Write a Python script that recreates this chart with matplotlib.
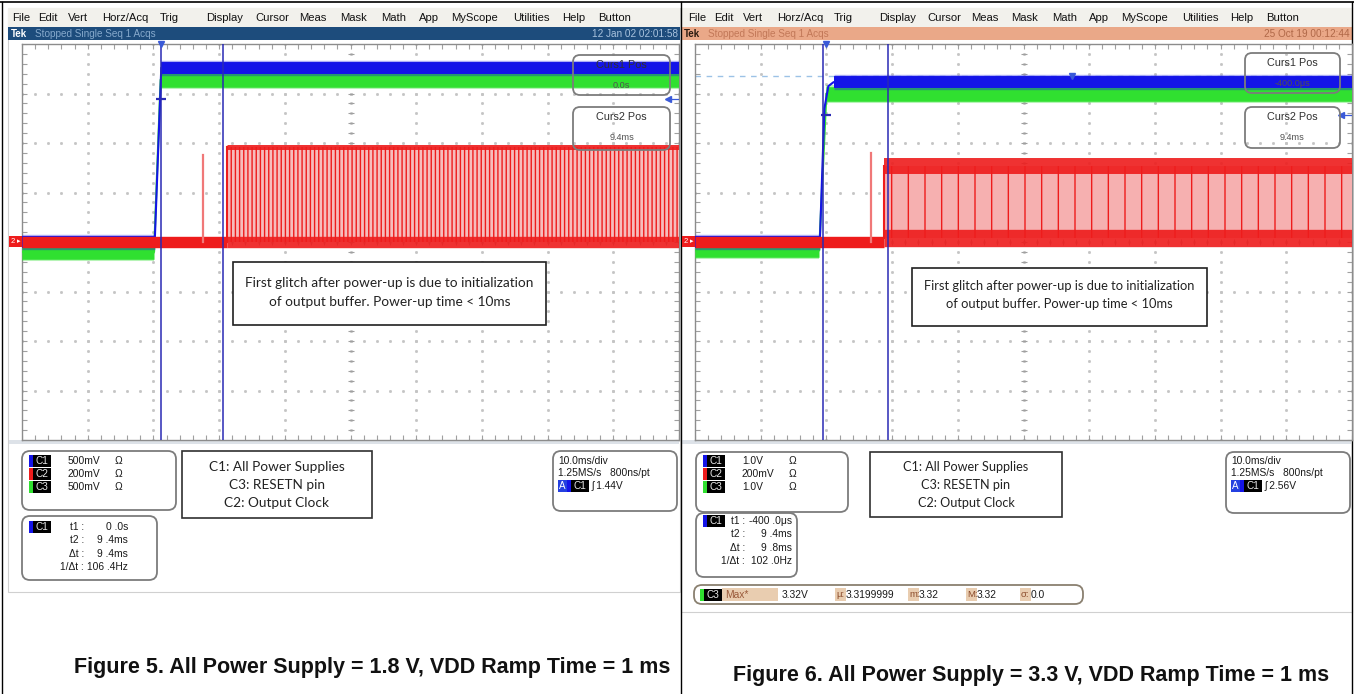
import numpy as np
import matplotlib.pyplot as plt
from matplotlib.patches import Rectangle, FancyBboxPatch

plt.rcParams['hatch.color'] = '#e81c1c'
plt.rcParams['hatch.linewidth'] = 1.0

menu_items = ["File", "Edit", "Vert", "Horz/Acq", "Trig", "Display", "Cursor",
              "Meas", "Mask", "Math", "App", "MyScope", "Utilities", "Help", "Button"]
menu_x = [12, 38, 68, 102, 160, 206, 255, 299, 340, 381, 419, 451, 513, 562, 598]
status = "Stopped Single Seq 1 Acqs"
dates = ["12 Jan 02 02:01:58", "25 Oct 19 00:12:44"]
captions = ["Figure 5. All Power Supply = 1.8 V, VDD Ramp Time = 1 ms",
            "Figure 6. All Power Supply = 3.3 V, VDD Ramp Time = 1 ms"]

# time window of each screen in ms (10 ms/div)
f5_window = [-21.2, 78.8]
f6_window = [-19.9, 80.1]
# V/div for C1, C2, C3
f5_scale = [0.5, 0.2, 0.5]
f6_scale = [1.0, 0.2, 1.0]

# C1 all power supplies (blue)
f5_c1_t = [-21.2, -1.0, 0.0, 78.8]
f5_c1_v = [0.0, 0.0, 1.76, 1.76]
f6_c1_t = [-19.9, -0.9, -0.2, 0.4, 1.2, 80.1]
f6_c1_v = [0.0, 0.0, 2.7, 3.15, 3.23, 3.23]
# C3 RESETN pin (green)
f5_c3_t = [-21.2, -1.1, -0.1, 78.8]
f5_c3_v = [-0.1, -0.1, 1.64, 1.64]
f6_c3_t = [-19.9, -1.0, 0.1, 80.1]
f6_c3_v = [-0.17, -0.17, 3.0, 3.0]
# C2 output clock (red): start (ms), low (V), high (V)
f5_clk = [10.0, 0.0, 0.382]
f6_clk = [8.9, 0.018, 0.307]
# first glitch: time (ms), height (V)
f5_glitch = [6.4, 0.35]
f6_glitch = [6.9, 0.36]
# cursors (ms), trigger level (V)
f5_curs = [0.0, 9.4]
f6_curs = [-0.4, 9.4]
f5_trig = 1.44
f6_trig = 2.56
f6_hlevel = 3.36
f6_hmark = 37.5

# readouts
f5_vert = [("C1", "500mV"), ("C2", "200mV"), ("C3", "500mV")]
f6_vert = [("C1", "1.0V"), ("C2", "200mV"), ("C3", "1.0V")]
legend_lines = ["C1: All Power Supplies", "C3: RESETN pin", "C2: Output Clock"]
horiz = ["10.0ms/div", "1.25MS/s   800ns/pt"]
f5_trig_txt = "\u0283 1.44V"
f6_trig_txt = "\u0283 2.56V"
f5_curs_pos = ["0.0s", "9.4ms"]
f6_curs_pos = ["-400.0\u03bcs", "9.4ms"]
f5_readout = [("t1 :", "0 .0s"), ("t2 :", "9 .4ms"), ("\u0394t :", "9 .4ms"), ("1/\u0394t :", "106 .4Hz")]
f6_readout = [("t1 :", "-400 .0\u03bcs"), ("t2 :", "9 .4ms"), ("\u0394t :", "9 .8ms"), ("1/\u0394t :", "102 .0Hz")]
note = ["First glitch after power-up is due to initialization",
        "of output buffer. Power-up time < 10ms"]
f6_meas_keys = ["\u03bc:", "m:", "M:", "\u03c3:"]
f6_meas_vals = ["3.3199999", "3.32", "3.32", "0.0"]

BLUE, GREEN, RED = '#1414e8', '#30e030', '#ee1c1c'
CURSOR = '#2a2ab4'
MARK = '#3a5ad8'
UI = ['Liberation Sans', 'DejaVu Sans']
NOTE = ['Lato', 'DejaVu Sans']

W, H = 1354, 694
fig = plt.figure(figsize=(W / 100, H / 100), dpi=100)


def overlay(z):
    a = fig.add_axes([0, 0, 1, 1], zorder=z)
    a.set_xlim(0, W)
    a.set_ylim(H, 0)
    a.axis('off')
    return a


bg = overlay(0)
fg = overlay(5)


def screen(x0, x1, y1, bar, tek_col, txt_col, date_col, date, mx0, msc):
    bg.add_patch(Rectangle((x0, 8), x1 - x0, y1 - 8, fc='white', ec='#d0d0d0', lw=0.8))
    bg.add_patch(Rectangle((x0, 8), x1 - x0, 19, fc='#f2f1ec', ec='none'))
    for name, mx in zip(menu_items, menu_x):
        bg.text(mx0 + (mx - 12) * msc, 18, name, fontsize=8.1, family=UI,
                color='#111111', va='center')
    bg.add_patch(Rectangle((x0, 27), x1 - x0, 13, fc=bar, ec='none'))
    bg.text(x0 + 3, 33.5, "Tek", fontsize=7, weight='bold', family=UI,
            color=tek_col, va='center')
    bg.text(x0 + 27, 33.5, status, fontsize=7.2, family=UI, color=txt_col, va='center')
    bg.text(x1 - 2, 33.5, date, fontsize=7.2, family=UI, color=date_col,
            va='center', ha='right')
    bg.add_patch(Rectangle((x0 + 1, 440), x1 - x0 - 2, 4, fc='#dde2e8', ec='none'))


def trace(ax, t, v, sc, color, band, z):
    y = np.asarray(v) / sc
    ax.plot(t, y, color=color, lw=1.5, zorder=z)
    for i in range(len(t) - 1):
        if v[i] == v[i + 1]:
            ax.plot(t[i:i + 2], y[i:i + 2], color=color, lw=band + 2.5, alpha=0.35,
                    solid_capstyle='butt', zorder=z)
            ax.plot(t[i:i + 2], y[i:i + 2], color=color, lw=band,
                    solid_capstyle='butt', zorder=z)


def scope(box, win, scale, c1_t, c1_v, c3_t, c3_v, clk, glitch, curs, trig,
          hatch, fill, top_lw, bot_lw):
    x0, y0, x1, y1 = box
    ax = fig.add_axes([x0 / W, 1 - y1 / H, (x1 - x0) / W, (y1 - y0) / H], zorder=2)
    ax.set_xlim(*win)
    ax.set_ylim(-4, 4)
    ax.set_xticks([])
    ax.set_yticks([])
    for s in ax.spines.values():
        s.set_color('#8c8c8c')
        s.set_linewidth(1.0)
    tr = ax.transAxes
    gx = np.linspace(0, 1, 51)
    gy = np.linspace(0, 1, 41)
    dot = dict(ls='none', marker='s', ms=1.0, color='#c4c4c4', transform=tr, zorder=1)
    for k in range(1, 10):
        ax.plot(np.full(gy.size, k / 10), gy, **dot)
    for k in range(1, 8):
        ax.plot(gx, np.full(gx.size, k / 8), **dot)
    tick = dict(ls='none', color='#a0a0a0', transform=tr, zorder=1, mew=0.8)
    ax.plot(gx, np.full(gx.size, 0.5), marker='|', ms=4, **tick)
    ax.plot(np.full(gy.size, 0.5), gy, marker='_', ms=4, **tick)
    for e in (0, 1):
        ax.plot(gx, np.full(gx.size, e), marker='|', ms=7, **tick)
        ax.plot(np.full(gy.size, e), gy, marker='_', ms=7, **tick)

    trace(ax, c3_t, c3_v, scale[2], GREEN, 10.5, 3)
    trace(ax, c1_t, c1_v, scale[0], BLUE, 8.6, 3.5)

    start, lo, hi = clk
    ylo, yhi = lo / scale[1], hi / scale[1]
    ax.plot([win[0], start], [0, 0], color=RED, lw=8.2, solid_capstyle='butt', zorder=4)
    ax.fill_between([start, win[1]], ylo, yhi, facecolor=fill, edgecolor=RED,
                    hatch=hatch, lw=0, zorder=4)
    ax.plot([start, win[1]], [yhi, yhi], color=RED, lw=top_lw, alpha=0.9,
            solid_capstyle='butt', zorder=4.2)
    ax.plot([start, win[1]], [ylo, ylo], color=RED, lw=bot_lw, alpha=0.9,
            solid_capstyle='butt', zorder=4.2)
    ax.plot([start, start], [ylo, yhi], color=RED, lw=1.5, zorder=4.2)
    ax.plot([glitch[0], glitch[0]], [0, glitch[1] / scale[1]], color='#f07878',
            lw=1.6, zorder=4)

    for c in curs:
        ax.axvline(c, color=CURSOR, lw=1.1, zorder=5)
    lvl = trig / scale[0]
    ax.plot([0], [lvl], marker='_', ms=7, mew=1.6, color=CURSOR, zorder=6)
    ax.plot([0], [4], marker='v', ms=5, color=MARK, clip_on=False, zorder=6)
    ax.plot([win[1] - 1.6, win[1]], [lvl, lvl], color=MARK, lw=0.9, zorder=6)
    ax.plot([win[1] - 1.6], [lvl], marker='<', ms=4.5, color=MARK, zorder=6)
    return ax


def rbox(x0, y0, x1, y1, ec='#7c7c7c', fc='white', r=8):
    fg.add_patch(FancyBboxPatch((x0, y0), x1 - x0, y1 - y0,
                                boxstyle='round,pad=0,rounding_size=%d' % r,
                                fc=fc, ec=ec, lw=1.3))


def chan(x, y, name, color):
    fg.add_patch(Rectangle((x, y - 6), 22, 12, fc='black', ec='none'))
    fg.add_patch(Rectangle((x, y - 6), 4, 12, fc=color, ec='none'))
    fg.text(x + 13, y, name, color='#e8e8e8', fontsize=7.2, family=UI,
            ha='center', va='center')


def txt(x, y, s, **kw):
    kw.setdefault('fontsize', 7.4)
    kw.setdefault('family', UI)
    kw.setdefault('color', '#1a1a1a')
    kw.setdefault('va', 'center')
    fg.text(x, y, s, **kw)


def curs_box(x0, y0, x1, y1, val):
    rbox(x0, y0, x1, y1, fc='none', r=7)
    cx = (x0 + x1) / 2
    title = "Curs1 Pos" if y0 < 100 else "Curs2 Pos"
    txt(cx, y0 + 10, title, ha='center', fontsize=7.8, color='#303030')
    txt(cx, y0 + 30, val, ha='center', fontsize=6.6, color='#505050')


def note_box(x0, y0, x1, y1, ys, fs):
    fg.add_patch(Rectangle((x0, y0), x1 - x0, y1 - y0, fc='white', ec='#202020', lw=1.2))
    for line, yy in zip(note, ys):
        txt((x0 + x1) / 2, yy, line, ha='center', family=NOTE, fontsize=fs, color='#222222')


def info(vx, vert, lbox, lfs, hx, hy, hbox, trig_txt, cbox, cy, cl, cv, readout):
    rbox(*vx)
    for (name, volts), y, col in zip(vert, [461, 474, 487], [BLUE, RED, GREEN]):
        chan(vx[0] + 7, y, name, col)
        txt(vx[0] + 46, y, volts)
        txt(vx[0] + 93, y, "\u03a9")
    fg.add_patch(Rectangle((lbox[0], lbox[1]), lbox[2] - lbox[0], lbox[3] - lbox[1],
                           fc='white', ec='#303030', lw=1.2))
    for line, y in zip(legend_lines, [467, 485, 503]):
        txt((lbox[0] + lbox[2]) / 2, y, line, ha='center', family=NOTE, fontsize=lfs,
            color='#222222')
    rbox(*hbox)
    txt(hx, hy, horiz[0])
    txt(hx, hy + 12, horiz[1])
    fg.add_patch(Rectangle((hx, hy + 19), 9, 12, fc='#2440e0', ec='none'))
    txt(hx + 4.5, hy + 25, "A", ha='center', color='white', fontsize=7)
    chan(hx + 9, hy + 25, "C1", BLUE)
    txt(hx + 34, hy + 25, trig_txt)
    rbox(*cbox)
    chan(cbox[0] + 7, cy, "C1", BLUE)
    for i, (lab, val) in enumerate(readout):
        y = cy + i * 13.3
        txt(cl, y, lab, ha='right')
        txt(cv, y, val, ha='right')


# frames of the two captures
screen(8, 680, 592, '#1d4c7c', 'white', '#86a9cc', '#a9c3de', dates[0], 12, 1.0)
screen(681, 1352, 612, '#eaa888', '#2a1a10', '#c27858', '#b06848', dates[1], 688, 0.986)

scope((22, 44, 679, 440), f5_window, f5_scale, f5_c1_t, f5_c1_v, f5_c3_t, f5_c3_v,
      f5_clk, f5_glitch, f5_curs, f5_trig, '||||', '#f6bcbc', 3.6, 8.2)
ax6 = scope((695, 44, 1352, 440), f6_window, f6_scale, f6_c1_t, f6_c1_v, f6_c3_t, f6_c3_v,
            f6_clk, f6_glitch, f6_curs, f6_trig, '|', '#f6b0b0', 11.5, 12.5)
ax6.axhline(f6_hlevel / f6_scale[0], color='#9cc2e6', lw=1.0, ls=(0, (4, 4)), zorder=2)
ax6.plot([f6_hmark], [f6_hlevel / f6_scale[0]], marker='v', ms=5, color=MARK, zorder=6)

# ground markers for C2 in the left margin
for gx in (9, 682):
    fg.add_patch(Rectangle((gx, 236), 13, 11, fc=RED, ec='none'))
    txt(gx + 4, 241.5, "2", color='white', fontsize=5.5, ha='center')
    txt(gx + 10, 241.5, "\u25b8", color='white', fontsize=5, ha='center',
        family=['DejaVu Sans'])

# cursor readouts on screen
curs_box(573, 55, 670, 95, f5_curs_pos[0])
curs_box(573, 107, 670, 150, f5_curs_pos[1])
curs_box(1245, 53, 1340, 93, f6_curs_pos[0])
curs_box(1245, 107, 1340, 148, f6_curs_pos[1])

note_box(233, 262, 546, 325, [283, 302], 9.8)
note_box(912, 268, 1207, 326, [286, 304], 9.3)

info((22, 451, 176, 510), f5_vert, (182, 451, 372, 518), 9.8, 558, 461,
     (553, 451, 677, 511), f5_trig_txt, (22, 516, 157, 580), 527, 84, 128, f5_readout)
info((696, 452, 848, 512), f6_vert, (870, 452, 1062, 517), 9.1, 1231, 461,
     (1226, 452, 1350, 513), f6_trig_txt, (696, 513, 797, 577), 521, 745, 792, f6_readout)

# measurement bar (Fig. 6)
rbox(694, 585, 1083, 604, ec='#8a8070', r=8)
chan(700, 594.5, "C3", GREEN)
fg.add_patch(Rectangle((722, 588), 56, 13, fc='#e9cdb0', ec='none'))
txt(725, 594.5, "Max*", color='#9a5a3a')
txt(782, 594.5, "3.32V")
for k, v, x in zip(f6_meas_keys, f6_meas_vals, [835, 908, 966, 1020]):
    fg.add_patch(Rectangle((x, 588), 11, 13, fc='#e9cdb0', ec='none'))
    txt(x + 1, 594.5, k, color='#8a4a2a', fontsize=6.8)
    txt(x + 11, 594.5, v)

# captions
bg.text(372, 668, captions[0], ha='center', va='center', fontsize=15.5, weight='bold',
        family=UI, color='#111111')
bg.text(1031, 676, captions[1], ha='center', va='center', fontsize=15.5, weight='bold',
        family=UI, color='#111111')

# table rules
bg.plot([0, W], [1.5, 1.5], color='black', lw=1.2)
for x in (2, 681, 1352):
    bg.plot([x, x], [1.5, H], color='black', lw=1.0)

fig.savefig('out.png', dpi=100)
